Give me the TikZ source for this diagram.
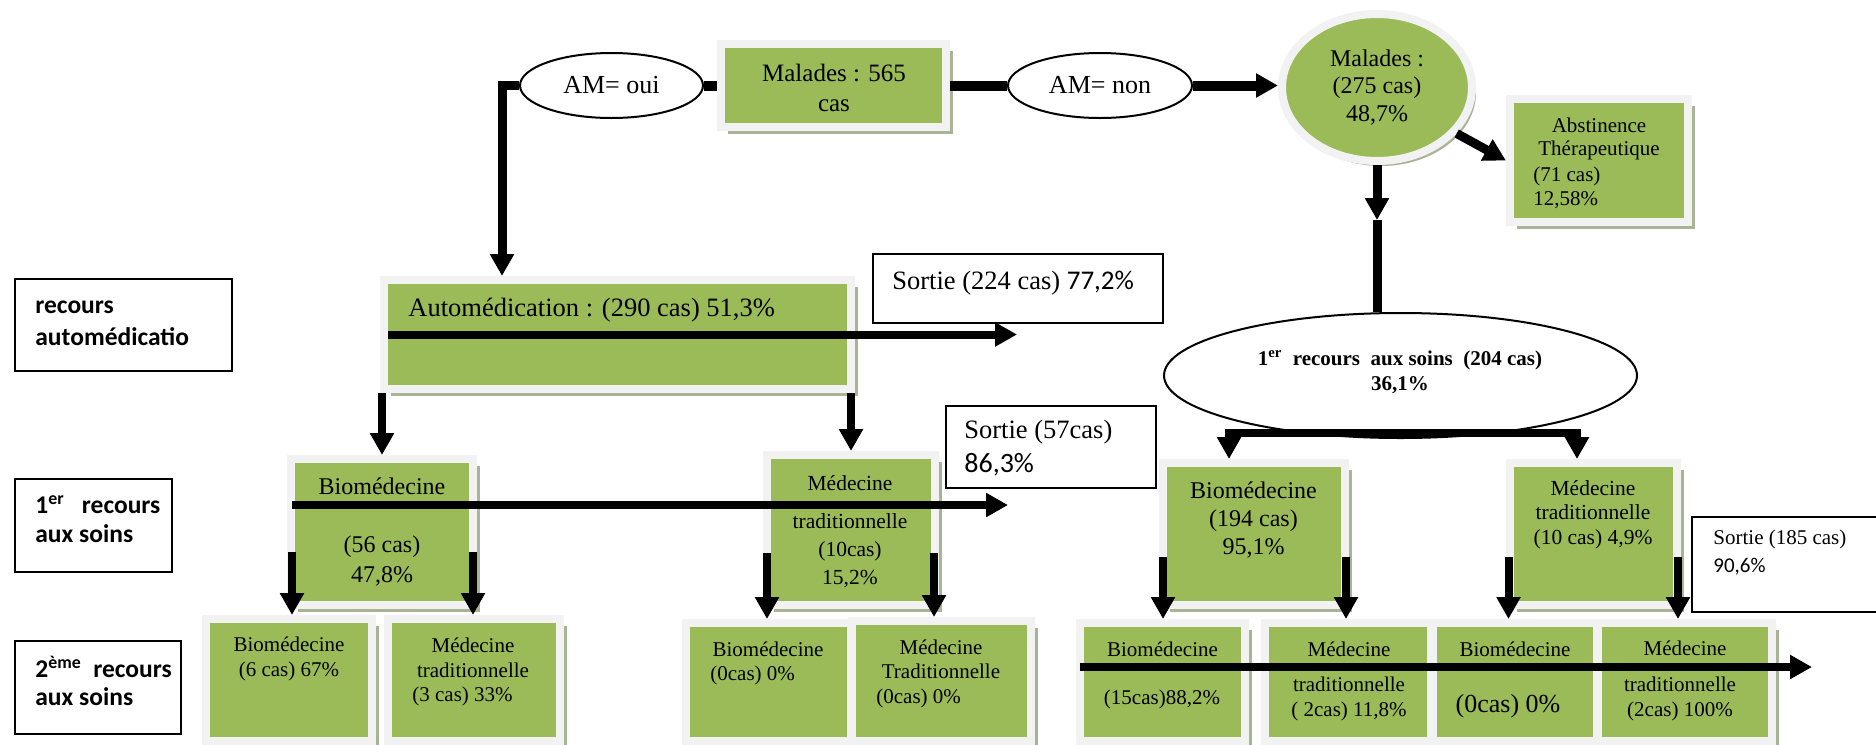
\documentclass[tikz,border=0pt]{standalone}
\usepackage{fontspec}
\setmainfont{Liberation Serif}
\newfontfamily\carl{Carlito}
\usetikzlibrary{arrows.meta,shapes.geometric,shadows}
\definecolor{gr}{HTML}{9BBB59}
\definecolor{frm}{HTML}{F2F2F2}
\definecolor{shd}{HTML}{A9B396}
\newcommand\fsz[2]{\fontsize{#1}{#2}\selectfont}
\begin{document}
\begin{tikzpicture}[x=0.5pt,y=-0.5pt,
  gbox/.style 2 args={rectangle, fill=gr, draw=frm, line width=4pt,
    minimum width=#1*0.5pt-4pt, minimum height=#2*0.5pt-4pt, inner sep=0pt,
    drop shadow={shadow xshift=3.5pt, shadow yshift=-3.5pt, fill=shd, opacity=1}},
  gell/.style 2 args={ellipse, fill=gr, draw=frm, line width=4pt,
    minimum width=#1*0.5pt-4pt, minimum height=#2*0.5pt-4pt, inner sep=0pt,
    drop shadow={shadow xshift=2pt, shadow yshift=-2.5pt, fill=shd, opacity=1}},
  well/.style 2 args={ellipse, fill=white, draw=black, line width=1pt,
    minimum width=#1*0.5pt, minimum height=#2*0.5pt, inner sep=0pt},
  wbox/.style={rectangle, fill=white, draw=black, line width=1pt, inner sep=0pt, anchor=north west},
  t/.style={inner sep=0pt, align=center},
  tl/.style={inner sep=0pt, align=left, anchor=west},
  thk/.style={line width=4pt},
  arr/.style={line width=4pt, -{Triangle[width=11.5pt,length=11pt]}}
]
\useasboundingbox (0,0) rectangle (1876,745);

% ---- left labels
\node[wbox, minimum width=108.5pt, minimum height=46pt] (lab1) at (14,278) {};
\node[wbox, minimum width=78.5pt, minimum height=46.5pt] (lab2) at (14,478) {};
\node[wbox, minimum width=83pt, minimum height=46.5pt] (lab3) at (14,640) {};
\node[tl, font=\carl\bfseries\fsz{12.75}{16}] (lab1t) at (35,323) {recours\\automédicatio};
\node[tl, font=\carl\bfseries\fsz{12.75}{14.5}] (lab2t) at (35,519.5) {1\textsuperscript{er}\ \ \ recours\\aux soins};
\node[tl, font=\carl\bfseries\fsz{12.75}{14}] (lab3t) at (35,681) {2\textsuperscript{ème}\ \ recours\\aux soins};

% ---- top
\node[gbox={233}{91}] (mal) at (833.5,85.5) {};
\node[t, font=\fsz{12.5}{15}] (malt) at (834,88) {Malades : 565\\cas};
\node[well={183}{65}, font=\fsz{13}{15}] (amoui) at (611.5,85.5) {AM= oui};
\node[well={184}{65}, font=\fsz{13}{15}] (amnon) at (1100,85.5) {AM= non};
\node[gell={198}{155}, font=\fsz{12}{13.75}, align=center] (circ) at (1377,87.5) {Malades :\\(275 cas)\\48,7\%};
\node[gbox={186}{131}] (abst) at (1599,160.5) {};
\node[t, font=\fsz{10.5}{11.5}] (abstt1) at (1599,138.5) {Abstinence\\Thérapeutique};
\node[tl, font=\fsz{10.5}{12}] (abstt2) at (1533,188) {(71 cas)\\12,58\%};

% ---- automedication level
\node[gbox={475}{117}] (auto) at (617.5,334.5) {};
\node[wbox, minimum width=145pt, minimum height=34.5pt] (s224) at (872,253) {};
\node[well={473}{125}] (rec1) at (1400.5,375.5) {};

% ---- first recourse
\node[gbox={190}{154}] (bio1) at (382,532) {};
\node[gbox={176}{158}] (mt1) at (851,530) {};
\node[wbox, minimum width=105pt, minimum height=41pt] (s57) at (945,405) {};
\node[gbox={190}{150}] (bio194) at (1254,534) {};
\node[gbox={175}{150}] (mt10) at (1593.5,534) {};
\node[wbox, minimum width=105pt, minimum height=47.5pt] (s185) at (1691,516) {};

% ---- second recourse
\node[gbox={174}{130}] (bio2a) at (289,680) {};
\node[gbox={180}{130}] (mt2a) at (474,680) {};
\node[gbox={173}{126}] (bio2b) at (768.5,682) {};
\node[gbox={187}{128}] (mt2b) at (941.5,681) {};
\node[gbox={173}{126}] (bA) at (1162.5,682) {};
\node[gbox={174}{126}] (bB) at (1348,682) {};
\node[gbox={172}{126}] (bC) at (1515,682) {};
\node[gbox={182}{126}] (bD) at (1685,682) {};

% ---- coordinates
\coordinate (c1) at (502,0);
\coordinate (m1) at (1380,220);
\coordinate (b1) at (1229,433);
\coordinate (b2) at (1577,433);
\coordinate (e1) at (1009,336);
\coordinate (h2s) at (292,505);
\coordinate (h2e) at (1008,505);
\coordinate (h3s) at (1080,667);
\coordinate (h3e) at (1812,667);
\coordinate (d1) at (292,552);
\coordinate (d2) at (473,552);
\coordinate (d3) at (767,553);
\coordinate (d4) at (934,553);
\coordinate (d5) at (1163,557);
\coordinate (d6) at (1346,557);
\coordinate (d7) at (1508.5,557);
\coordinate (d8) at (1678,557);

% ---- connectors
\draw[line width=5pt] (mal.west) -- (amoui.east);
\draw[arr, line width=4.5pt] (amoui.west) -| (c1 |- auto.north);
\draw[line width=5pt] (mal.east) -- (amnon.west);
\draw[arr, line width=5pt] (amnon.east) -- (amnon.east -| circ.west);
\draw[arr, line width=4.5pt] (circ.-30) -- (abst.west);
\draw[arr, line width=4.5pt] (circ.south) -- (circ.south |- m1);
\draw[line width=4.5pt] (circ.south |- m1) -- (circ.south |- rec1.north);
\draw[arr] (b2) -- (b1) -- (b1 |- bio194.north);
\draw[arr] (b1) -- (b2) -- (b2 |- mt10.north);
\draw[arr] (bio1.north |- auto.south) -- (bio1.north);
\draw[arr] (mt1.north |- auto.south) -- (mt1.north);
\draw[arr] ([xshift=4pt]auto.west) -- ([xshift=4pt]auto.west -| e1);
\draw[arr] (h2s) -- (h2e);
\draw[arr] (d1) -- (d1 |- bio2a.north);
\draw[arr] (d2) -- (d2 |- mt2a.north);
\draw[arr] (d3) -- (d3 |- bio2b.north);
\draw[arr] (d4) -- (d4 |- mt2b.north);
\draw[arr] (d5) -- (d5 |- bA.north);
\draw[arr] (d6) -- (d6 |- bB.north);
\draw[arr] (d7) -- (d7 |- bC.north);
\draw[arr] (d8) -- (d8 |- bD.north);
\draw[arr] (h3s) -- (h3e);

% ---- texts
\node[tl, font=\fsz{13.25}{15}] (autot) at (408,310) {Automédication : (290 cas) 51,3\%};
\node[tl, font=\fsz{13.25}{15}] (s224t) at (892,283) {Sortie (224 cas) {\carl\fontsize{13.5}{15}\selectfont 77,2\%}};
\node[t, font=\bfseries\fsz{10.5}{12.5}] (rec1t) at (1400,372.5) {1\textsuperscript{er}\ \ recours\ \ aux soins\ \ (204 cas)\\36,1\%};

\node[t, font=\fsz{12}{15}] (bio1t1) at (382,486) {Biomédecine};
\node[t, font=\fsz{12}{15}] (bio1t2) at (382,561) {(56 cas)\\47,8\%};
\node[t, font=\fsz{10.75}{14}] (mt1t1) at (850,483) {Médecine};
\node[t, font=\fsz{10.75}{14}] (mt1t2) at (850,551) {traditionnelle\\(10cas)\\15,2\%};
\node[tl, font=\fsz{13.25}{16.5}] (s57t1) at (964,432) {Sortie (57cas)};
\node[tl, font=\carl\fsz{14}{16.5}] (s57t2) at (964,465) {86,3\%};
\node[t, font=\fsz{12}{14}] (bio194t) at (1253.5,520) {Biomédecine\\(194 cas)\\95,1\%};
\node[t, font=\fsz{10.75}{12.25}] (mt10t) at (1593,514.5) {Médecine\\traditionnelle\\(10 cas) 4,9\%};
\node[tl, font=\fsz{10.5}{13.5}] (s185t1) at (1713,539.5) {Sortie (185 cas)};
\node[tl, font=\carl\fsz{10.5}{13.5}] (s185t2) at (1713,566.5) {90,6\%};

\node[t, font=\fsz{10.5}{12.5}] (bio2at) at (289,658.5) {Biomédecine\\(6 cas) 67\%};
\node[t, font=\fsz{10.5}{12.5}] (mt2at1) at (473,657.5) {Médecine\\traditionnelle};
\node[tl, font=\fsz{10.5}{12.5}] (mt2at2) at (412,696) {(3 cas) 33\%};
\node[t, font=\fsz{10.5}{12.5}] (bio2bt1) at (768,649) {Biomédecine};
\node[tl, font=\fsz{10.5}{12.5}] (bio2bt2) at (710,675) {(0cas) 0\%};
\node[t, font=\fsz{10.5}{12}] (mt2bt1) at (941,659) {Médecine\\Traditionnelle};
\node[tl, font=\fsz{10.5}{12.5}] (mt2bt2) at (876,698) {(0cas) 0\%};

\node[t, font=\fsz{10.5}{12.5}] (bAt1) at (1162.5,649) {Biomédecine};
\node[t, font=\fsz{10.5}{12.5}] (bAt2) at (1162,699) {(15cas)88,2\%};
\node[t, font=\fsz{10.5}{12.5}] (bBt1) at (1349,649) {Médecine};
\node[t, font=\fsz{10.5}{12.5}] (bBt2) at (1349,698.5) {traditionnelle\\( 2cas) 11,8\%};
\node[t, font=\fsz{10.5}{12.5}] (bCt1) at (1515,649) {Biomédecine};
\node[t, font=\fsz{13}{15}] (bCt2) at (1508,706) {(0cas) 0\%};
\node[t, font=\fsz{10.5}{12.5}] (bDt1) at (1685,648) {Médecine};
\node[t, font=\fsz{10.5}{12.5}] (bDt2) at (1680,698.5) {traditionnelle\\(2cas) 100\%};
\end{tikzpicture}
\end{document}
